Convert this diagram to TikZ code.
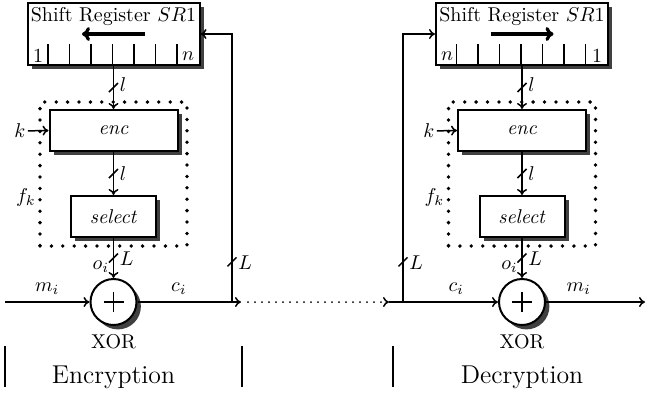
\documentclass[tikz,border=0pt]{standalone}
\usetikzlibrary{shadows,arrows.meta}
\begin{document}
\begin{tikzpicture}[x=0.5pt,y=-0.5pt,
  shade/.style={drop shadow={shadow xshift=2.2pt,shadow yshift=-2.2pt,fill=black!75,opacity=1}},
  box/.style={draw, line width=1pt, fill=white, inner sep=0pt, shade},
  conn/.style={line width=0.75pt},
  arr/.style={conn, -{To[length=3pt,width=5pt]}},
  dotbox/.style={draw, line width=1.9pt, dash pattern=on 0pt off 5.7pt, line cap=round, inner sep=0pt},
  lbl/.style={inner sep=1pt},
  xorgate/.style={circle, draw, line width=1pt, fill=white, minimum size=23pt, inner sep=0pt, shade},
  bar/.style={line width=0.9pt},
  caption/.style={font=\fontsize{12.9}{15}\selectfont},
  ]
\useasboundingbox (0,0) rectangle (646,393);

% ---------- encryption side ----------
\node[box, minimum width=86pt, minimum height=31pt] (sr1) at (113.5,34) {};
\node (srt1) at (113.5,17) {Shift Register $SR1$};
\draw[line width=1.6pt, -{To[length=4pt,width=7pt]}] ([xshift=15.75pt]sr1.center) -- ([xshift=-15.75pt]sr1.center);
\foreach \k in {1,...,7}
  \draw[conn] ([xshift=\k*10.75pt]sr1.south west) -- ++(0,-22);
\node (one1) at (38,56) {1};
\node (n1) at (188,56) {$n$};

\node[dotbox, minimum width=73.5pt, minimum height=72pt] (f1) at (113.5,174) {};
\node[box, minimum width=64pt, minimum height=20.5pt] (enc1) at (113.5,130.5) {\textit{enc}};
\node[box, minimum width=42.5pt, minimum height=20.5pt] (sel1) at (113.5,216.5) {\textit{select}};
\node[lbl, anchor=east] (fk1) at ([yshift=-11.5pt]f1.west) {$f_k$};
\node[lbl] (k1) at (20,131) {$k$};
\draw[arr] (k1) -- (enc1.west);

\node[xorgate] (xor1) at (113.5,302) {};
\draw[conn] ([xshift=-5pt]xor1.center) -- ([xshift=5pt]xor1.center)
            ([yshift=-5pt]xor1.center) -- ([yshift=5pt]xor1.center);
\node (xl1) at (113.5,342) {XOR};

\draw[arr] (sr1.south) -- coordinate[pos=0.5] (s11) (enc1.north);
\draw[arr] (enc1.south) -- coordinate[pos=0.5] (s12) (sel1.north);
\draw[arr] (sel1.south) -- coordinate[pos=0.5] (s13) (xor1.north);
\node[lbl, anchor=west] (l11) at ([xshift=2pt,yshift=1.5pt]s11) {$l$};
\node[lbl, anchor=west] (l12) at ([xshift=2pt,yshift=0pt]s12) {$l$};
\node[lbl, anchor=west] (L13) at ([xshift=2pt,yshift=-0.5pt]s13) {$L$};
\node[lbl, anchor=east] (o1) at ([xshift=-1pt,yshift=-4.5pt]s13) {$o_i$};

\coordinate (in1) at (5,302);
\coordinate (j1) at (232,302);
\coordinate (a1) at (241,302);
\draw[arr] (in1) -- node[above] (m1) {$m_i$} (xor1.west);
\draw[arr] (xor1.east) -- node[above, pos=0.4] (c1) {$c_i$} (a1);
\draw[arr] (j1) -- coordinate[pos=0.15] (s14) (j1 |- sr1.east) -- (sr1.east);
\node[lbl, anchor=west] (L14) at ([xshift=2pt,yshift=-0.5pt]s14) {$L$};

% ---------- channel ----------
\coordinate (d1) at (248,302);
\coordinate (d2) at (389,302);
\draw[line width=1pt, dash pattern=on 0pt off 3.5pt, line cap=round] (d1) -- ([xshift=-3pt]d2);
\draw[conn, -{To[length=3pt,width=5pt]}] ([xshift=-1pt]d2) -- (d2);

% ---------- decryption side ----------
\node[box, minimum width=86pt, minimum height=31pt] (sr2) at (522,34) {};
\node (srt2) at (522,17) {Shift Register $SR1$};
\draw[line width=1.6pt, -{To[length=4pt,width=7pt]}] ([xshift=-15.75pt]sr2.center) -- ([xshift=15.75pt]sr2.center);
\foreach \k in {1,...,7}
  \draw[conn] ([xshift=\k*10.75pt]sr2.south west) -- ++(0,-22);
\node (n2) at (447,56) {$n$};
\node (one2) at (597,56) {1};

\node[dotbox, minimum width=73.5pt, minimum height=72pt] (f2) at (522,174) {};
\node[box, minimum width=64pt, minimum height=20.5pt] (enc2) at (522,130.5) {\textit{enc}};
\node[box, minimum width=42.5pt, minimum height=20.5pt] (sel2) at (522,216.5) {\textit{select}};
\node[lbl, anchor=east] (fk2) at ([yshift=-11.5pt]f2.west) {$f_k$};
\node[lbl] (k2) at (429,131) {$k$};
\draw[arr] (k2) -- (enc2.west);

\node[xorgate] (xor2) at (522,302) {};
\draw[conn] ([xshift=-5pt]xor2.center) -- ([xshift=5pt]xor2.center)
            ([yshift=-5pt]xor2.center) -- ([yshift=5pt]xor2.center);
\node (xl2) at (522,342) {XOR};

\draw[arr] (sr2.south) -- coordinate[pos=0.5] (s21) (enc2.north);
\draw[arr] (enc2.south) -- coordinate[pos=0.5] (s22) (sel2.north);
\draw[arr] (sel2.south) -- coordinate[pos=0.5] (s23) (xor2.north);
\node[lbl, anchor=west] (l21) at ([xshift=2pt,yshift=1.5pt]s21) {$l$};
\node[lbl, anchor=west] (l22) at ([xshift=2pt,yshift=0pt]s22) {$l$};
\node[lbl, anchor=west] (L23) at ([xshift=2pt,yshift=-0.5pt]s23) {$L$};
\node[lbl, anchor=east] (o2) at ([xshift=-1pt,yshift=-4.5pt]s23) {$o_i$};

\coordinate (j2) at (403,302);
\coordinate (out2) at (645,302);
\draw[conn] (d2) -- (j2);
\draw[arr] (j2) -- node[above, pos=0.56] (c2) {$c_i$} (xor2.west);
\draw[arr] (xor2.east) -- node[above, pos=0.33] (m2) {$m_i$} (out2);
\draw[arr] (j2) -- coordinate[pos=0.15] (s24) (j2 |- sr2.west) -- (sr2.west);
\node[lbl, anchor=west] (L24) at ([xshift=2pt,yshift=-0.5pt]s24) {$L$};

% ---------- bus-width slashes ----------
\foreach \s in {s11,s12,s13,s14,s21,s22,s23,s24}
  \draw[conn] (\s) +(-4.5,4.5) -- +(4.5,-4.5);

% ---------- section captions ----------
\draw[bar] (5,346) -- (5,387);
\draw[bar] (242,346) -- (242,387);
\draw[bar] (393,346) -- (393,387);
\node[caption] (encl) at (113.5,377) {Encryption};
\node[caption] (decl) at (522,377) {Decryption};
\end{tikzpicture}
\end{document}
